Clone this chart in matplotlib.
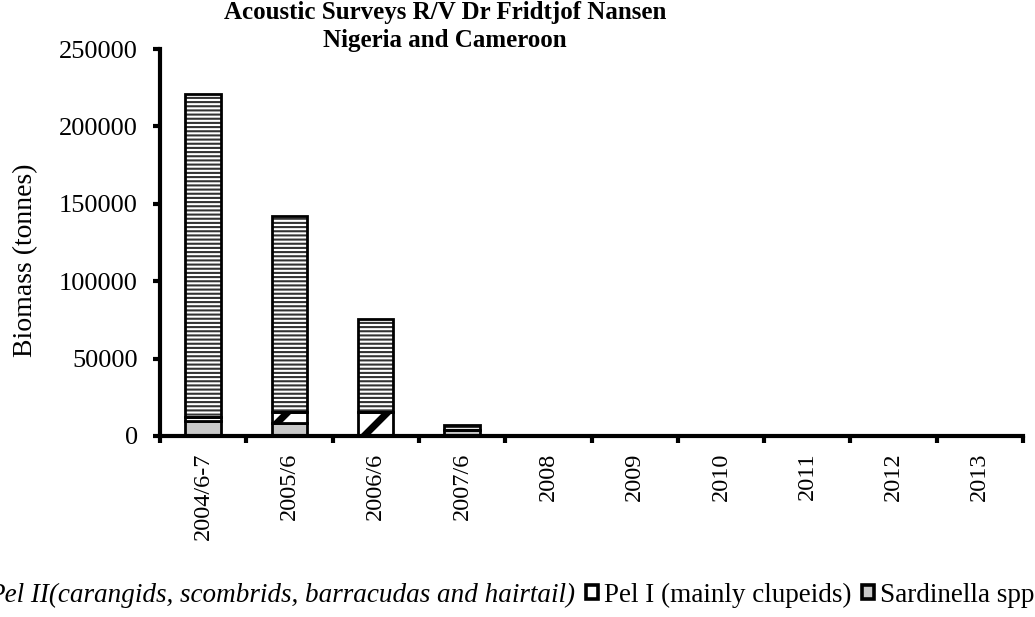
import matplotlib
matplotlib.use("Agg")
import matplotlib.pyplot as plt
from matplotlib.patches import Patch
import numpy as np

categories = ["2004/6-7", "2005/6", "2006/6", "2007/6", "2008", "2009", "2010", "2011", "2012", "2013"]
sardinella = [9900, 8600, 0, 3900, 0, 0, 0, 0, 0, 0]
pel_i = [2600, 7100, 15300, 0, 0, 0, 0, 0, 0, 0]
pel_ii = [208200, 126400, 60300, 3200, 0, 0, 0, 0, 0, 0]

label_pel_ii = "Pel II(carangids, scombrids, barracudas and hairtail)"
label_pel_i = "Pel I (mainly clupeids)"
label_sard = "Sardinella spp"
title_1 = "Acoustic Surveys R/V Dr Fridtjof Nansen"
title_2 = "Nigeria and Cameroon"
ylabel = "Biomass (tonnes)"

plt.rcParams['font.family'] = ['Liberation Serif', 'DejaVu Serif']

W, H = 1035, 617
DPI = 150
K = 100 / DPI  # sizes below are given as "points at 100 dpi"

fig = plt.figure(figsize=(W / DPI, H / DPI), dpi=DPI)
ax = fig.add_axes([160 / W, 1 - 436 / H, (1023 - 160) / W, (436 - 49) / H])

x = np.arange(len(categories))
bw = 0.41
sard = np.array(sardinella)
p1 = np.array(pel_i)
p2 = np.array(pel_ii)


def set_hlw(bars, lw):
    for p in bars:
        if hasattr(p, 'set_hatch_linewidth'):
            p.set_hatch_linewidth(lw)


EDGE = 2.0 * K
# Sardinella
ax.bar(x, sard, bw, color='#c8c8c8', edgecolor='black', linewidth=EDGE, zorder=2)
# Pel I (diagonal hatch)
with plt.rc_context({'hatch.linewidth': 5.0 * K}):
    b = ax.bar(x, p1, bw, bottom=sard, color='white', edgecolor='black', linewidth=0,
               hatch='/', zorder=2)
set_hlw(b, 5.0 * K)
ax.bar(x, p1, bw, bottom=sard, color='none', edgecolor='black', linewidth=EDGE, zorder=3)
# Pel II (horizontal hatch)
with plt.rc_context({'hatch.linewidth': 1.5 * K}):
    b = ax.bar(x, p2, bw, bottom=sard + p1, color='white', edgecolor='#333333', linewidth=0,
               hatch='------', zorder=2)
set_hlw(b, 1.5 * K)
ax.bar(x, p2, bw, bottom=sard + p1, color='none', edgecolor='black', linewidth=EDGE, zorder=3)

ax.set_xlim(-0.5, len(categories) - 0.5)
ax.set_ylim(0, 250000)
ax.set_yticks(np.arange(0, 250001, 50000))
ax.set_yticklabels([str(v) for v in range(0, 250001, 50000)], fontsize=19 * K)

ax.set_xticks(np.arange(-0.5, len(categories), 1.0))
ax.set_xticklabels([])
ax.set_xticks(x, minor=True)
ax.set_xticklabels(categories, minor=True, rotation=90, fontsize=17.5 * K)
ax.tick_params(axis='x', which='minor', length=0, pad=12 * K)
ax.tick_params(axis='x', which='major', length=5 * K, width=3 * K, direction='out')
ax.tick_params(axis='y', which='major', length=5 * K, width=3 * K, direction='out', pad=11 * K)

for s in ['top', 'right']:
    ax.spines[s].set_visible(False)
for s in ['left', 'bottom']:
    ax.spines[s].set_linewidth(3.0 * K)

fig.text(445 / W, 1 - 13 / H, title_1, ha='center', va='center', fontsize=18 * K, fontweight='bold')
fig.text(445 / W, 1 - 40 / H, title_2, ha='center', va='center', fontsize=18 * K, fontweight='bold')
fig.text(26 / W, 1 - 260 / H, ylabel, rotation=90, ha='center', va='center', fontsize=20 * K)

# legend
h2 = Patch(facecolor='white', edgecolor='black', hatch='------', linewidth=EDGE * 1.3)
h1 = Patch(facecolor='white', edgecolor='black', hatch='/', linewidth=EDGE * 1.3)
hs = Patch(facecolor='#c8c8c8', edgecolor='black', linewidth=EDGE * 1.3)
leg = fig.legend([h2, h1, hs], [label_pel_ii, label_pel_i, label_sard], ncol=3,
                 loc='center right', bbox_to_anchor=(1034 / W, 1 - 595 / H), frameon=False,
                 fontsize=19.5 * K, handlelength=0.45, handleheight=0.45, handletextpad=0.2,
                 columnspacing=0.4, borderaxespad=0, borderpad=0)
leg.get_texts()[0].set_fontstyle('italic')

fig.savefig("out.png", dpi=DPI)
